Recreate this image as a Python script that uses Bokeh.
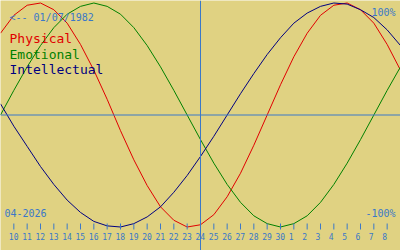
from bokeh.plotting import figure
from bokeh.models import Range1d, Span, Label, ColumnDataSource
from bokeh.core.properties import value
from bokeh.embed import file_html
from bokeh.resources import INLINE

# Days shown (April 2026 day numbers; 31.. = May 1..)
days = [9, 10, 11, 12, 13, 14, 15, 16, 17, 18, 19, 20, 21, 22, 23, 24, 25, 26,
        27, 28, 29, 30, 31, 32, 33, 34, 35, 36, 37, 38, 39]

physical = [73, 89, 98, 100, 94, 82, 63, 40, 14, -14, -40, -63, -82, -94, -100, -98,
            -89, -73, -52, -27, 0, 27, 52, 73, 89, 98, 100, 94, 82, 63, 40]
emotional = [0, 22, 43, 62, 78, 90, 97, 100, 97, 90, 78, 62, 43, 22, 0, -22,
             -43, -62, -78, -90, -97, -100, -97, -90, -78, -62, -43, -22, 0, 22, 43]
intellectual = [10, -10, -28, -46, -62, -76, -87, -95, -99, -100, -97, -91, -82, -69, -54, -37,
                -19, 0, 19, 37, 54, 69, 82, 91, 97, 100, 99, 94, 87, 76, 62]

tick_days = [10, 11, 12, 13, 14, 15, 16, 17, 18, 19, 20, 21, 22, 23, 24, 25, 26, 27,
             28, 29, 30, 31, 32, 33, 34, 35, 36, 37, 38]
tick_labels = ["10", "11", "12", "13", "14", "15", "16", "17", "18", "19", "20", "21",
               "22", "23", "24", "25", "26", "27", "28", "29", "30", "1", "2", "3",
               "4", "5", "6", "7", "8"]

today = 24
birth_text = "<-- 01/07/1982"
month_text = "04-2026"
series_names = ["Physical", "Emotional", "Intellectual"]

BG = "#E0D282"
BLUE = "#3A78C8"
RED = "#E00000"
GREEN = "#008000"
NAVY = "#000080"
MONO = "DejaVu Sans Mono"

H = 250
CENTER = 114.5   # pixel row of 0 %
SCALE = 1.12     # pixels per percent

def yv(px):
    return (CENTER - px) / SCALE

p = figure(width=400, height=H, x_range=Range1d(9, 39), y_range=Range1d(yv(H), yv(0)),
           output_backend="svg", toolbar_location=None,
           x_axis_location=None, y_axis_location=None, min_border=0)
p.background_fill_color = BG
p.border_fill_color = BG
p.outline_line_color = None
p.grid.visible = False

p.add_layout(Span(location=0, dimension="width", line_color=BLUE, line_width=1))
p.add_layout(Span(location=today, dimension="height", line_color=BLUE, line_width=1))

for vals, col in zip([physical, emotional, intellectual], [RED, GREEN, NAVY]):
    p.line(days, vals, line_color=col, line_width=1)

# day ticks and labels along the bottom
tsrc = ColumnDataSource(dict(x=tick_days, y0=[yv(223)] * len(tick_days),
                             y1=[yv(229)] * len(tick_days), ly=[yv(236)] * len(tick_days),
                             t=tick_labels))
p.segment(x0="x", y0="y0", x1="x", y1="y1", source=tsrc, line_color=BLUE, line_width=1)
p.text(x="x", y="ly", text="t", source=tsrc, text_color=BLUE, text_font=value(MONO),
       text_font_size=value("8px"), text_align="left", text_baseline="middle", x_offset=-5)

def lab(text, x, ybase, color, size, align="left"):
    p.add_layout(Label(x=x, y=H - ybase, x_units="screen", y_units="screen", text=text,
                       text_color=color, text_font=MONO, text_font_size=size,
                       text_align=align, text_baseline="alphabetic"))

lab(birth_text, 9, 16.5, BLUE, "10px")
lab(series_names[0], 9, 38, RED, "13px")
lab(series_names[1], 9, 53.5, GREEN, "13px")
lab(series_names[2], 9, 68.5, NAVY, "13px")
lab("100%", 395, 12, BLUE, "10px", "right")
lab("-100%", 395, 212.5, BLUE, "10px", "right")
lab(month_text, 4, 212.5, BLUE, "10px")

open("out.html", "w").write(file_html(p, INLINE))
